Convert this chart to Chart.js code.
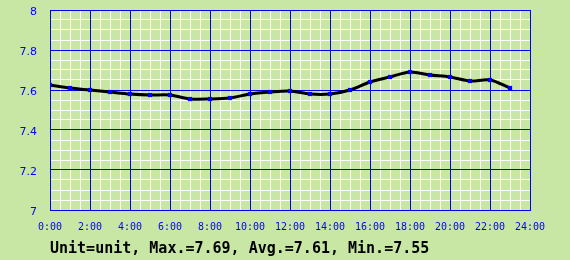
<!DOCTYPE html>
<html>
<head>
<meta charset="utf-8">
<script src="https://cdn.jsdelivr.net/npm/chart.js@4"></script>
<style>
  body { margin: 0; background: #c8e6a4; }
  canvas { display: block; }
</style>
</head>
<body>
<canvas id="main-chart"></canvas>
<script>
// hourly readings, 0:00 .. 23:00
const hours = [0, 1, 2, 3, 4, 5, 6, 7, 8, 9, 10, 11, 12, 13, 14, 15, 16, 17, 18, 19, 20, 21, 22, 23];
const values = [7.625, 7.61, 7.60, 7.59, 7.58, 7.575, 7.575, 7.555, 7.555, 7.56, 7.58, 7.59,
                7.595, 7.58, 7.58, 7.60, 7.64, 7.665, 7.69, 7.675, 7.665, 7.645, 7.65, 7.61];
const xTickLabels = ['0:00', '2:00', '4:00', '6:00', '8:00', '10:00', '12:00',
                     '14:00', '16:00', '18:00', '20:00', '22:00', '24:00'];
const yTickLabels = ['7', '7.2', '7.4', '7.6', '7.8', '8'];
const summary = 'Unit=unit, Max.=7.69, Avg.=7.61, Min.=7.55';

const BLUE = '#0000ff';

const canvas1 = document.getElementById('main-chart');
canvas1.setAttribute('width', '570');
canvas1.setAttribute('height', '260');

// fixed box sizes, no extra padding from the labels
const fixBox = (w, h) => s => {
  if (w !== null) s.width = w;
  if (h !== null) s.height = h;
  s.paddingTop = 0;
  s.paddingBottom = 0;
  s.paddingLeft = 0;
  s.paddingRight = 0;
};

// white minor grid goes under the blue major grid, so each gets its own axis
const minorAxis = (pos, step, min, max) => ({
  type: 'linear',
  position: pos,
  min: min,
  max: max,
  z: -2,
  afterFit: pos === 'bottom' ? fixBox(null, 0) : fixBox(0, null),
  ticks: { display: false, stepSize: step, autoSkip: false },
  grid: { drawTicks: false, color: '#ffffff', lineWidth: 1 },
  border: { display: false }
});

new Chart(canvas1, {
  type: 'line',
  data: {
    datasets: [{
      data: hours.map((h, i) => ({ x: h, y: values[i] })),
      borderColor: '#000000',
      borderWidth: 3,
      tension: 0.3,
      pointStyle: 'rect',
      pointRadius: 3,
      pointBorderWidth: 0,
      pointBackgroundColor: BLUE,
      fill: false
    }]
  },
  options: {
    responsive: false,
    animation: false,
    layout: { padding: { top: 10, right: 40, left: 0, bottom: 0 } },
    plugins: {
      legend: { display: false },
      tooltip: { enabled: false },
      title: {
        display: true,
        position: 'bottom',
        align: 'start',
        fullSize: false,
        text: summary,
        color: '#000000',
        font: { family: 'DejaVu Sans Mono', size: 15, weight: 'bold', lineHeight: 1.2 },
        padding: { top: 2, bottom: 2 }
      }
    },
    scales: {
      xMinor: minorAxis('bottom', 0.5, 0, 24),
      yMinor: minorAxis('left', 0.05, 7, 8),
      x: {
        type: 'linear',
        min: 0,
        max: 24,
        z: -1,
        afterFit: fixBox(null, 28),
        ticks: {
          stepSize: 2,
          autoSkip: false,
          maxRotation: 0,
          padding: 11,
          color: BLUE,
          font: { family: 'DejaVu Sans Mono', size: 10 },
          callback: v => xTickLabels[Math.round(v / 2)]
        },
        grid: { drawTicks: false, color: BLUE, lineWidth: 1 },
        border: { color: BLUE }
      },
      y: {
        min: 7,
        max: 8,
        z: -1,
        afterFit: fixBox(50, null),
        ticks: {
          stepSize: 0.2,
          autoSkip: false,
          padding: 13,
          labelOffset: 2,
          color: BLUE,
          font: { family: 'DejaVu Sans', size: 11 },
          callback: v => yTickLabels[Math.round((v - 7) * 5)]
        },
        grid: { drawTicks: false, color: BLUE, lineWidth: 1 },
        border: { color: BLUE }
      }
    }
  }
});
</script>
</body>
</html>
